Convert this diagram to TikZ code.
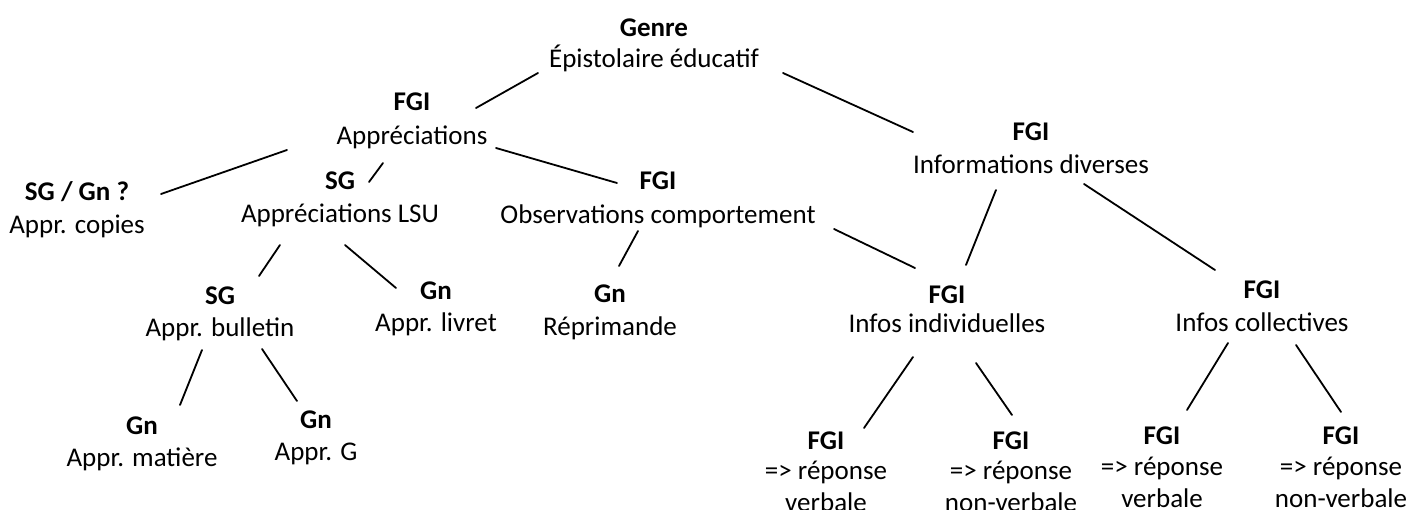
\documentclass[tikz,border=0pt]{standalone}
\usepackage{fontspec}
\setmainfont{Carlito}
\begin{document}
\begin{tikzpicture}[x=1pt,y=-1pt,
  every node/.style={inner sep=0pt,anchor=base,font=\fontsize{27}{33}\selectfont},
  lab/.style={font=\fontsize{27}{33}\selectfont\bfseries},
  link/.style={line width=1.8pt,line cap=round}]
\useasboundingbox (0,0) rectangle (1407,510);
% nodes: label line and name line
\node[lab] (genre-l) at (654,37) {Genre};
\node (genre) at (654,68) {Épistolaire éducatif};
\node[lab] (appr-l) at (412,111) {FGI};
\node (appr) at (412,145) {Appréciations};
\node[lab] (infd-l) at (1031,141) {FGI};
\node (infd) at (1031,174) {Informations diverses};
\node[lab] (copies-l) at (77,201) {SG / Gn ?};
\node (copies) at (77,234) {Appr. copies};
\node[lab] (lsu-l) at (340,190) {SG};
\node (lsu) at (340,223) {Appréciations LSU};
\node[lab] (obs-l) at (658,190) {FGI};
\node (obs) at (658,224) {Observations comportement};
\node[lab] (bull-l) at (220,305) {SG};
\node (bull) at (220,336) {Appr. bulletin};
\node[lab] (livret-l) at (436,300) {Gn};
\node (livret) at (436,331) {Appr. livret};
\node[lab] (repr-l) at (610,303) {Gn};
\node (repr) at (610,335) {Réprimande};
\node[lab] (mat-l) at (142,434) {Gn};
\node (mat) at (142,466) {Appr. matière};
\node[lab] (g-l) at (316,428) {Gn};
\node (g) at (316,460) {Appr. G};
\node[lab] (indiv-l) at (947,304) {FGI};
\node (indiv) at (947,333) {Infos individuelles};
\node[lab] (coll-l) at (1262,299) {FGI};
\node (coll) at (1262,331) {Infos collectives};
\node[lab] (r1-l) at (826,449) {FGI};
\node (r1a) at (826,479) {=> réponse};
\node (r1) at (826,511) {verbale};
\node[lab] (r2-l) at (1011,449) {FGI};
\node (r2a) at (1011,479) {=> réponse};
\node (r2) at (1011,511) {non-verbale};
\node[lab] (r3-l) at (1162,444) {FGI};
\node (r3a) at (1162,475) {=> réponse};
\node (r3) at (1162,507) {verbale};
\node[lab] (r4-l) at (1341,444) {FGI};
\node (r4a) at (1341,475) {=> réponse};
\node (r4) at (1341,507) {non-verbale};
% connector end points
\coordinate (genre-sw) at (538,73);   \coordinate (appr-ne) at (476,108);
\coordinate (genre-se) at (783,73);   \coordinate (infd-nw) at (913,132);
\coordinate (appr-sw) at (287,150);   \coordinate (copies-ne) at (161,194);
\coordinate (appr-s) at (383,163);    \coordinate (lsu-ne) at (369,182);
\coordinate (appr-se) at (496,148);   \coordinate (obs-nw) at (617,183);
\coordinate (obs-se) at (834,229);    \coordinate (indiv-nw) at (915,268);
\coordinate (obs-s) at (638,231);     \coordinate (repr-n) at (619,266);
\coordinate (infd-s) at (996,190);    \coordinate (indiv-ne) at (966,265);
\coordinate (infd-se) at (1084,184);  \coordinate (coll-nw) at (1215,270);
\coordinate (lsu-sw) at (280,245);    \coordinate (bull-n) at (259,276);
\coordinate (lsu-se) at (345,245);    \coordinate (livret-nw) at (396,288);
\coordinate (bull-sw) at (202,350);   \coordinate (mat-n) at (180,405);
\coordinate (bull-se) at (262,349);   \coordinate (g-n) at (297,401);
\coordinate (indiv-sw) at (913,357);  \coordinate (r1-n) at (864,428);
\coordinate (indiv-se) at (976,363);  \coordinate (r2-n) at (1012,415);
\coordinate (coll-sw) at (1228,343);  \coordinate (r3-n) at (1187,410);
\coordinate (coll-se) at (1296,345);  \coordinate (r4-n) at (1341,412);
% connectors
\draw[link] (genre-sw) -- (appr-ne);
\draw[link] (genre-se) -- (infd-nw);
\draw[link] (appr-sw) -- (copies-ne);
\draw[link] (appr-s) -- (lsu-ne);
\draw[link] (appr-se) -- (obs-nw);
\draw[link] (obs-se) -- (indiv-nw);
\draw[link] (obs-s) -- (repr-n);
\draw[link] (infd-s) -- (indiv-ne);
\draw[link] (infd-se) -- (coll-nw);
\draw[link] (lsu-sw) -- (bull-n);
\draw[link] (lsu-se) -- (livret-nw);
\draw[link] (bull-sw) -- (mat-n);
\draw[link] (bull-se) -- (g-n);
\draw[link] (indiv-sw) -- (r1-n);
\draw[link] (indiv-se) -- (r2-n);
\draw[link] (coll-sw) -- (r3-n);
\draw[link] (coll-se) -- (r4-n);
\end{tikzpicture}
\end{document}
